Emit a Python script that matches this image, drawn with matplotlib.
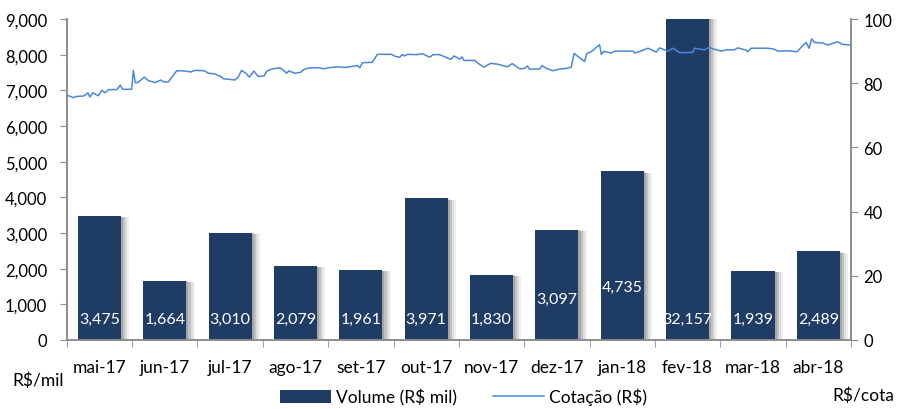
import matplotlib
matplotlib.use("Agg")
import matplotlib.pyplot as plt
import matplotlib.patheffects as pe
from matplotlib.patches import Patch
from matplotlib.lines import Line2D
import numpy as np

plt.rcParams['font.family'] = ['Lato', 'DejaVu Sans']

meses = ['mai-17', 'jun-17', 'jul-17', 'ago-17', 'set-17', 'out-17',
         'nov-17', 'dez-17', 'jan-18', 'fev-18', 'mar-18', 'abr-18']
volume = [3475, 1664, 3010, 2079, 1961, 3971, 1830, 3097, 4735, 32157, 1939, 2489]

# dias desde 01/05/2017 e cotação (R$)
dias = [0.8, 3.1, 4.7, 7.8, 9.8, 10.8, 12.1, 14.7, 16.3, 17.8, 19.4, 23.3, 25.0, 25.9,
        30.2, 31.0, 31.9, 33.3, 36.1, 38.0, 41.1, 43.8, 45.0, 47.3, 51.2, 55.0, 57.8,
        59.7, 64.0, 65.9, 68.7, 71.7, 72.9, 78.3, 79.8, 81.4, 83.2, 85.0, 87.1, 89.1,
        91.9, 93.0, 95.3, 99.2, 101.5, 102.3, 103.4, 106.2, 108.9, 110.1, 113.1, 117.0,
        120.1, 121.4, 126.3, 129.4, 132.5, 135.3, 136.4, 137.6, 142.2, 144.6, 151.1,
        153.1, 155.0, 156.1, 157.3, 158.6, 162.8, 165.5, 168.9, 170.5, 173.6, 178.7,
        180.3, 182.9, 184.0, 184.9, 189.9, 191.4, 194.2, 197.3, 200.7, 205.1, 207.3,
        210.8, 213.1, 214.4, 215.4, 220.1, 221.2, 223.2, 226.3, 229.4, 232.5, 234.8,
        236.1, 239.5, 241.0, 242.1, 244.1, 248.0, 248.8, 250.0, 253.4, 255.0, 263.5,
        264.3, 267.1, 270.5, 274.4, 275.9, 279.8, 282.2, 285.2, 291.4, 292.2, 296.8,
        299.1, 300.7, 304.6, 306.9, 310.8, 312.3, 316.2, 317.0, 318.5, 326.3, 329.3,
        330.9, 335.6, 339.9, 341.4, 344.1, 345.5, 346.7, 348.0, 351.9, 354.2, 358.8,
        361.1, 365.0]
cotacao = [76.1, 75.5, 75.9, 76.0, 77.0, 75.7, 77.0, 76.1, 77.8, 77.0, 78.0, 78.0, 79.4, 78.1,
           78.1, 84.0, 80.1, 80.3, 81.9, 80.8, 80.2, 81.0, 80.4, 80.4, 83.9, 83.8, 83.5,
           84.0, 83.9, 83.1, 82.9, 82.1, 81.4, 81.0, 81.9, 84.0, 83.2, 81.9, 83.8, 82.1,
           82.3, 83.7, 84.4, 84.8, 83.7, 83.1, 83.8, 83.1, 83.4, 84.2, 84.8, 84.8,
           84.5, 84.8, 85.1, 84.9, 85.2, 85.5, 84.8, 86.4, 86.5, 89.0, 89.0,
           88.3, 88.1, 88.9, 88.5, 89.0, 88.9, 89.2, 88.1, 88.9, 88.9, 87.4,
           88.5, 87.5, 88.2, 87.1, 87.1, 86.2, 85.0, 86.2, 85.9, 85.1, 86.1,
           84.5, 84.6, 85.4, 84.4, 84.4, 85.5, 84.6, 83.9, 84.4, 84.6, 85.0,
           89.3, 87.5, 86.8, 89.3, 89.8, 92.0, 89.0, 89.9, 89.4, 90.0, 90.0,
           89.4, 90.0, 90.9, 89.7, 91.0, 90.0, 90.9, 89.5, 89.6, 90.9, 90.4,
           91.2, 90.7, 90.0, 90.4, 90.4, 91.0, 90.3, 89.8, 90.9, 90.9, 90.6,
           90.0, 90.1, 89.8, 90.9, 92.7, 90.9, 93.8, 92.7, 92.5, 91.9, 92.9,
           92.1, 91.9]

bar_color = '#1F3C64'
line_color = '#4A88DA'
axis_color = '#8C8C8C'
fs = 12.5

fig = plt.figure(figsize=(8.97, 4.10), dpi=100)
ax = fig.add_axes([0.0744, 0.1683, 0.8743, 0.7829])
ax2 = ax.twinx()
ax.set_zorder(1)
ax2.set_zorder(2)
ax.patch.set_visible(False)

shadow = [pe.SimplePatchShadow(offset=(6, -1), shadow_rgbFace='#000000', alpha=0.06),
          pe.SimplePatchShadow(offset=(4.5, -1), shadow_rgbFace='#000000', alpha=0.08),
          pe.SimplePatchShadow(offset=(3, -1), shadow_rgbFace='#000000', alpha=0.12),
          pe.SimplePatchShadow(offset=(1.5, -0.5), shadow_rgbFace='#000000', alpha=0.15),
          pe.Normal()]

x = np.arange(len(meses))
ax.bar(x, volume, width=0.66, color=bar_color, zorder=2, path_effects=shadow)

ax.set_xlim(-0.5, len(meses) - 0.5)
ax.set_ylim(0, 9000)
ax.set_yticks(np.arange(0, 9001, 1000))
ax.set_yticklabels([f'{v:,}' for v in range(0, 9001, 1000)])
ax.set_xticks(x)
ax.set_xticklabels(meses)
ax.set_xticks(np.arange(-0.5, len(meses), 1), minor=True)
ax.tick_params(axis='x', which='major', length=0, pad=14, labelsize=fs)
ax.tick_params(axis='x', which='minor', length=5, color=axis_color, direction='out')
ax.tick_params(axis='y', length=5, color=axis_color, labelsize=12, pad=9)

label_y = [590] * len(meses)
label_y[7] = 1150
label_y[8] = 1490
for xi, v, ly in zip(x, volume, label_y):
    ax.text(xi, ly, f'{v:,}', ha='center', va='center', color='white', fontsize=11.5, zorder=5)

xline = -0.5 + np.array(dias) / 365.0 * len(meses)
ax2.plot(xline, cotacao, color=line_color, lw=1.1, zorder=3)
ax2.set_ylim(0, 100)
ax2.set_yticks(np.arange(0, 101, 20))
ax2.tick_params(axis='y', length=5, color=axis_color, labelsize=12, pad=4)

for a in (ax, ax2):
    a.spines['top'].set_visible(False)
    for side in ('left', 'right', 'bottom'):
        a.spines[side].set_color(axis_color)
        a.spines[side].set_linewidth(1.2)

fig.text(0.014, 0.071, 'R$/mil', fontsize=fs, ha='left', va='center')
fig.text(0.997, 0.035, 'R$/cota', fontsize=fs, ha='right', va='center')

handles = [Patch(facecolor=bar_color, edgecolor='none'),
           Line2D([0], [0], color=line_color, lw=1.1)]
fig.legend(handles, ['Volume (R$ mil)', 'Cotação (R$)'], loc='center',
           bbox_to_anchor=(0.517, 0.03), ncol=2, frameon=False, fontsize=fs,
           handlelength=2.9, handleheight=0.75, columnspacing=2.1, handletextpad=0.3)

fig.savefig('out.png', dpi=100)
